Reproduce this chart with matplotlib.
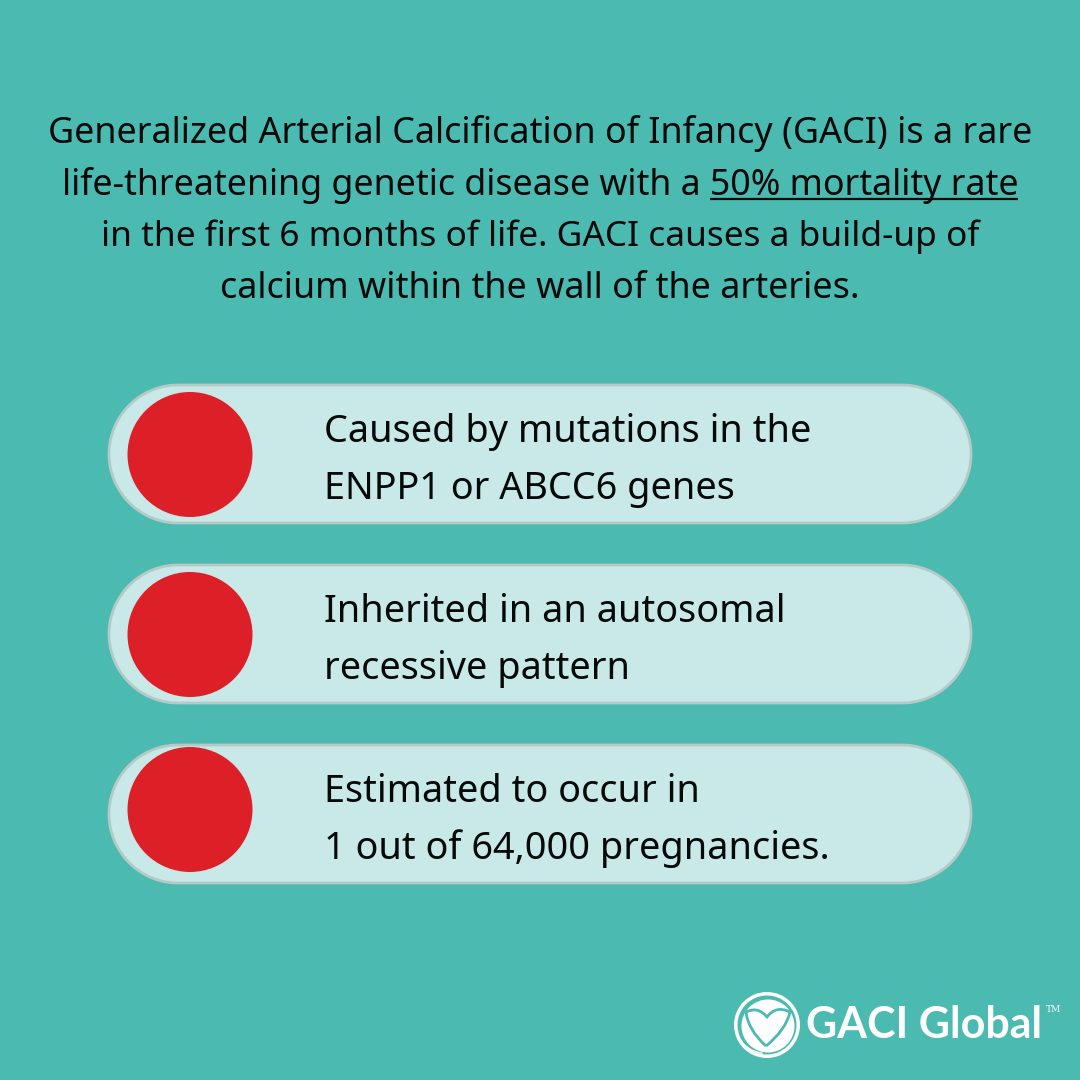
import matplotlib
matplotlib.use("Agg")
import matplotlib.pyplot as plt
from matplotlib.patches import Circle, Wedge, PathPatch
from matplotlib.path import Path
import numpy as np

plt.rcParams['font.family'] = ['Noto Sans', 'DejaVu Sans']

BG = '#4BBAB0'
PILL = '#C8E9E7'
EDGE = '#B5C9C6'
RED = '#DD2027'
INK = '#030808'

intro_lines = [
    "Generalized Arterial Calcification of Infancy (GACI) is a rare",
    "life-threatening genetic disease with a 50% mortality rate",
    "in the first 6 months of life. GACI causes a build-up of",
    "calcium within the wall of the arteries.",
]
intro_y = [133, 185, 237, 289]
intro_fs = [25.87, 25.7, 25.4, 25.87]
underlined = "50% mortality rate"

pill_lines = [
    ["Caused by mutations in the", "ENPP1 or ABCC6 genes"],
    ["Inherited in an autosomal", "recessive pattern"],
    ["Estimated to occur in", "1 out of 64,000 pregnancies."],
]
pill_tops = [385, 565, 745]
circle_y = [454.5, 634.5, 809.5]

fig = plt.figure(figsize=(10.8, 10.8), dpi=100, facecolor=BG)
ax = fig.add_axes([0, 0, 1, 1])
ax.set_xlim(0, 1080)
ax.set_ylim(1080, 0)
ax.axis('off')

PFS = 27.25
fig.canvas.draw()
r = fig.canvas.get_renderer()


def width(s, fs):
    t = ax.text(0, 0, s, fontsize=fs)
    w = t.get_window_extent(r).width
    t.remove()
    return w


for s, y, fs in zip(intro_lines, intro_y, intro_fs):
    ax.text(540, y, s, ha='center', va='center', fontsize=fs, color=INK)
    if underlined in s:
        w_full = width(s, fs)
        pre = s[:s.index(underlined)]
        w_pre = width(pre + "|", fs) - width("|", fs)
        x0 = 540 - w_full / 2 + w_pre
        ax.plot([x0, x0 + width(underlined, fs)], [y + 14, y + 14], color=INK, lw=1.6,
                solid_capstyle='butt')


def pill_path(x0, x1, top, h):
    rad = h / 2
    a = np.linspace(np.pi / 2, -np.pi / 2, 60)
    cy = top + rad
    xs = np.r_[x1 - rad + rad * np.cos(a), x0 + rad - rad * np.cos(a)]
    ys = np.r_[cy - rad * np.sin(a), cy + rad * np.sin(a)]
    return Path(np.c_[np.r_[xs, xs[0]], np.r_[ys, ys[0]]], closed=True)


for top, cy, lines in zip(pill_tops, circle_y, pill_lines):
    ax.add_patch(PathPatch(pill_path(109, 971, top, 138), fc=PILL, ec=EDGE, lw=2))
    ax.add_patch(Circle((190, cy), 62.5, fc=RED, ec='none'))
    ax.text(324.5, top + 47, lines[0], ha='left', va='center', fontsize=PFS, color=INK)
    ax.text(324.5, top + 104, lines[1], ha='left', va='center', fontsize=PFS, color=INK)

# logo: white disc, swirl ring, teal-outlined heart
ax.add_patch(Circle((768, 1026), 26.5, fc='white', ec='none'))
ax.add_patch(Wedge((767, 1025), 33, 0, 360, width=3.5, fc='white', ec='none'))
ax.add_patch(Wedge((765, 1024), 30, 95, 260, width=1.5, fc='white', ec='none'))
heart = Path([(766, 1046), (748, 1030), (746, 1012), (758, 1006), (767, 1017),
              (776, 1005), (790, 1012), (786, 1030), (766, 1046)],
             [Path.MOVETO, Path.CURVE3, Path.CURVE3, Path.CURVE3, Path.CURVE3,
              Path.CURVE3, Path.CURVE3, Path.CURVE3, Path.CURVE3])
ax.add_patch(PathPatch(heart, fc='white', ec=BG, lw=2))
ax.text(806, 1025, "GACI Global", ha='left', va='center', fontsize=31,
        color='white', fontweight='bold', family=['Lato', 'DejaVu Sans'])
ax.text(1046, 1010, "TM", ha='left', va='center', fontsize=6.5, color='white',
        family=['DejaVu Serif'])

fig.savefig('out.png', dpi=100, facecolor=BG)
